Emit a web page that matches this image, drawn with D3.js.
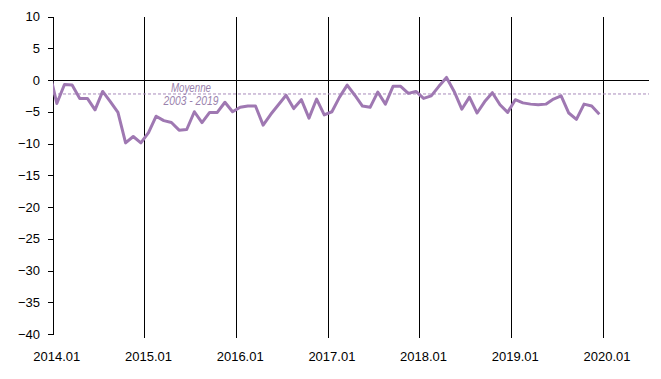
<!DOCTYPE html>
<html>
<head>
<meta charset="utf-8">
<script src="https://cdn.jsdelivr.net/npm/d3@7"></script>
<style>
  html, body { margin: 0; padding: 0; background: #fff; }
  svg { display: block; font-family: "Liberation Sans", Arial, sans-serif; }
</style>
</head>
<body>
<svg id="chart" width="661" height="379"></svg>
<script>
// Months: first value (2013.12) lies just left of the axis and is clipped
const months = ["2013.12",
  "2014.01","2014.02","2014.03","2014.04","2014.05","2014.06","2014.07","2014.08","2014.09","2014.10","2014.11","2014.12",
  "2015.01","2015.02","2015.03","2015.04","2015.05","2015.06","2015.07","2015.08","2015.09","2015.10","2015.11","2015.12",
  "2016.01","2016.02","2016.03","2016.04","2016.05","2016.06","2016.07","2016.08","2016.09","2016.10","2016.11","2016.12",
  "2017.01","2017.02","2017.03","2017.04","2017.05","2017.06","2017.07","2017.08","2017.09","2017.10","2017.11","2017.12",
  "2018.01","2018.02","2018.03","2018.04","2018.05","2018.06","2018.07","2018.08","2018.09","2018.10","2018.11","2018.12",
  "2019.01","2019.02","2019.03","2019.04","2019.05","2019.06","2019.07","2019.08","2019.09","2019.10","2019.11","2019.12"];
const values = [1.5,
  -3.7, -0.7, -0.8, -2.9, -2.9, -4.7, -1.8, -3.4, -5.1, -9.9, -8.9, -9.9,
  -8.3, -5.7, -6.4, -6.7, -7.9, -7.8, -5.0, -6.7, -5.1, -5.1, -3.5, -5.0,
  -4.3, -4.1, -4.1, -7.1, -5.4, -3.9, -2.4, -4.5, -3.1, -6.0, -3.0, -5.5,
  -5.0, -2.7, -0.8, -2.4, -4.1, -4.3, -1.9, -3.8, -1.0, -1.0, -2.1, -1.8,
  -2.9, -2.5, -1.0, 0.4, -1.8, -4.6, -2.7, -5.2, -3.4, -2.0, -3.9, -5.1,
  -3.1, -3.6, -3.8, -3.9, -3.8, -3.0, -2.5, -5.2, -6.2, -3.8, -4.1, -5.4];
const meanValue = -2.2;
const meanLabel = ["Moyenne", "2003 - 2019"];
const xTickLabels = ["2014.01","2015.01","2016.01","2017.01","2018.01","2019.01","2020.01"];
const yTicks = [10, 5, 0, -5, -10, -15, -20, -25, -30, -35, -40];
const totalMonths = 78; // 2014.01 .. 2020.06 slots on the category axis

const svg = d3.select("#chart");
const mLeft = 53, mRight = 649, mTop = 16.5, mBottom = 334;
const lineColor = "#9f78b2";

// x: month slot index (0 = 2014.01); points are centred in their slot
const x = d3.scaleLinear().domain([0, totalMonths]).range([mLeft, mRight]);
const y = d3.scaleLinear().domain([-40, 10]).range([mBottom, mTop]);

svg.append("defs").append("clipPath").attr("id", "plot")
  .append("rect").attr("x", mLeft).attr("y", 0).attr("width", mRight - mLeft).attr("height", 379);

// Year gridlines (vertical) at year boundaries
const yearStarts = xTickLabels.map((d, i) => i * 12).filter(v => v > 0);
svg.append("g").selectAll("line").data(yearStarts).join("line")
  .attr("x1", d => x(d)).attr("x2", d => x(d))
  .attr("y1", mTop).attr("y2", mBottom + 4)
  .attr("stroke", "#000").attr("stroke-width", 1).attr("shape-rendering", "crispEdges");

// Y axis
const yAxis = d3.axisLeft(y).tickValues(yTicks).tickSize(5).tickPadding(8).tickFormat(d3.format("d"));
const gy = svg.append("g").attr("transform", `translate(${mLeft},0)`).call(yAxis);
gy.select(".domain").attr("stroke", "#000").attr("shape-rendering", "crispEdges");
gy.selectAll(".tick line").attr("stroke", "#000").attr("shape-rendering", "crispEdges");
gy.selectAll("text").attr("font-size", 13).attr("fill", "#000")
  .attr("font-family", "Liberation Sans, Arial, sans-serif");

// Zero line
svg.append("line").attr("x1", mLeft).attr("x2", mRight).attr("y1", y(0)).attr("y2", y(0))
  .attr("stroke", "#000").attr("stroke-width", 1).attr("shape-rendering", "crispEdges");

// X labels (centered on January slot)
svg.append("g").selectAll("text").data(xTickLabels).join("text")
  .attr("x", (d, i) => x(i * 12 + 0.5))
  .attr("y", 360.5)
  .attr("text-anchor", "middle").attr("font-size", 13).attr("fill", "#000")
  .text(d => d);

// Mean line
svg.append("line").attr("x1", mLeft).attr("x2", mRight).attr("y1", y(meanValue)).attr("y2", y(meanValue))
  .attr("stroke", "#a98abb").attr("stroke-width", 1).attr("stroke-dasharray", "3,2");

const meanWidths = [40, 55];
svg.append("g").selectAll("text").data(meanLabel).join("text")
  .attr("x", 191)
  .attr("y", (d, i) => 92 + i * 13)
  .attr("text-anchor", "middle").attr("font-size", 12).attr("font-style", "italic")
  .attr("textLength", (d, i) => meanWidths[i]).attr("lengthAdjust", "spacingAndGlyphs")
  .attr("fill", "#9a82ad")
  .text(d => d);

// Data line
const line = d3.line().x((d, i) => x(i - 1 + 0.5)).y(d => y(d));
svg.append("path").datum(values)
  .attr("clip-path", "url(#plot)")
  .attr("d", line).attr("fill", "none")
  .attr("stroke", lineColor).attr("stroke-width", 3).attr("stroke-linejoin", "round");
</script>
</body>
</html>
